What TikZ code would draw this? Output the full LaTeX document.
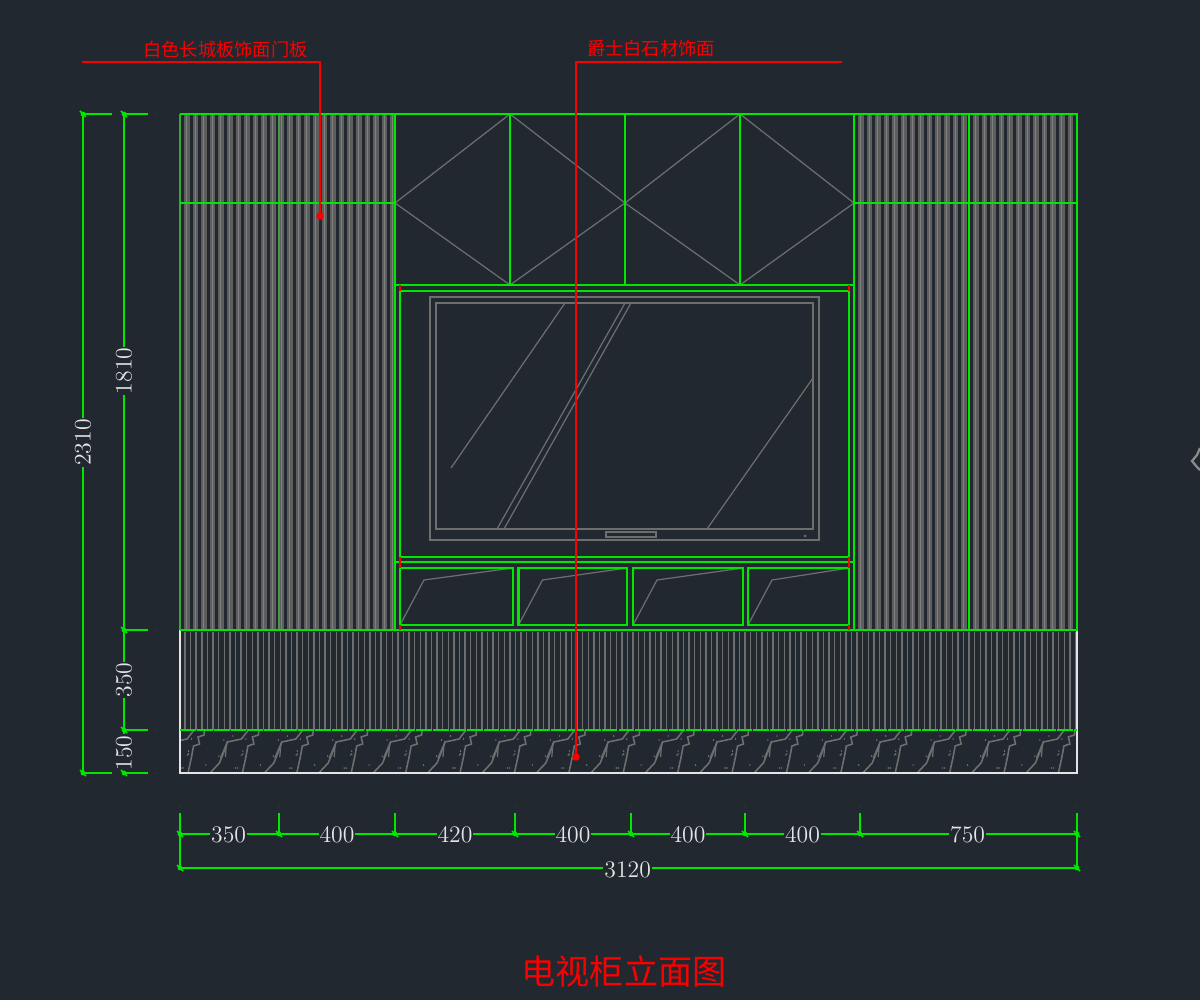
\documentclass[tikz,border=0pt]{standalone}
\usepackage{fontspec}
\newfontfamily\cjk{Noto Sans CJK SC}
\definecolor{cadbg}{HTML}{212830}
\definecolor{cadgreen}{HTML}{00E800}
\definecolor{cadgrey}{HTML}{6E6E6E}
\definecolor{ribgrey}{HTML}{5E5E5E}
\definecolor{ribpale}{HTML}{808080}
\definecolor{cadred}{HTML}{FA0000}
\definecolor{cadwhite}{HTML}{E4E4E4}
\tikzset{
  greenln/.style={draw=cadgreen,line width=1.3pt},
  greyln/.style={draw=cadgrey,line width=0.7pt},
  redln/.style={draw=cadred,line width=1.05pt},
  dimln/.style={draw=cadgreen,line width=1pt},
  dimtxt/.style={fill=cadbg,text=cadwhite,inner sep=0.6pt,font=\fontsize{13.5}{14}\selectfont},
  notetxt/.style={text=cadred,inner sep=0pt,font=\cjk\fontsize{10.4}{12}\selectfont}
}
\newcommand{\dimtick}[2]{
  \fill [cadgreen] (#1,#2) circle (2.4);
  \draw [cadgreen,line width=1pt] (#1-3,#2+3) -- (#1+3,#2-3);
}
\begin{document}
\begin{tikzpicture}[x=0.02cm,y=0.02cm]
  \useasboundingbox (0,0) rectangle (1200,-1000);
  \fill [cadbg] (0,0) rectangle (1200,-1000);
  % ribbed door panels
  \foreach \x in {0,...,24} {
    \fill [ribgrey] (184+8.6*\x,-114) rectangle (189.5+8.6*\x,-630);
    \draw [ribpale,line width=0.6pt] (186.5+8.6*\x,-114) -- (186.5+8.6*\x,-630);
  }
  \foreach \x in {0,...,12} {
    \fill [ribgrey] (858+8.6*\x,-114) rectangle (863.5+8.6*\x,-630);
    \draw [ribpale,line width=0.6pt] (860.5+8.6*\x,-114) -- (860.5+8.6*\x,-630);
  }
  \foreach \x in {0,...,11} {
    \fill [ribgrey] (973+8.6*\x,-114) rectangle (978.5+8.6*\x,-630);
    \draw [ribpale,line width=0.6pt] (975.5+8.6*\x,-114) -- (975.5+8.6*\x,-630);
  }
  \draw [cadgreen!45!cadgrey,line width=0.9pt] (180,-114) -- (180,-630);
  \draw [cadgreen!35!cadgrey,line width=0.8pt] (279,-114) -- (279,-630);
  % plinth lines
  \foreach \x in {0,...,159} {
    \draw [cadgrey,line width=0.8pt] (185+5.6*\x,-632) -- (185+5.6*\x,-730);
  }
  % stone band
  \begin{scope}
    \clip (180,-730) rectangle (1077,-773);
    \foreach \k in {0,...,17} {
      \begin{scope}[shift={(\k*54.4,0)}]
        \draw [greyln,line width=0.9pt] (155.6,-773) -- (165,-763) -- (171,-748) -- (173,-742) -- (187,-739) -- (194,-730);
        \draw [greyln,line width=0.7pt] (166,-758) -- (172,-744) -- (171,-757);
        \draw [greyln,line width=0.9pt] (188,-773) -- (191.5,-757) -- (193.5,-746) -- (199.5,-744) -- (198,-737) -- (204,-735) -- (204.5,-730);
        \foreach \dx/\dy in {169.5/740,178.5/736,164.5/756,151.5/765,181/768,183/768,188.5/754,188.5/751,191.5/739,133/755} {
          \fill [cadgrey!90!white] (\dx,-\dy) circle (0.8);
        }
      \end{scope}
    }
  \end{scope}
  \draw [cadwhite,line width=1.05pt] (180,-630) -- (180,-773) -- (1077,-773) -- (1077,-630);
  % diamonds over the tv
  \draw [greyln] (395,-203) -- (510,-114) -- (625,-203) -- (740,-114) -- (854,-203) -- (740,-285) -- (625,-203) -- (510,-285) -- cycle;
  % tv
  \draw [greyln,line width=0.85pt] (430,-297) rectangle (819,-540);
  \draw [greyln,line width=0.85pt] (436,-303) rectangle (813,-529);
  \draw [greyln] (606,-532) rectangle (656,-537);
  \fill [cadgrey] (805,-536) circle (1.5);
  \draw [greyln] (451,-468) -- (565,-303);
  \draw [greyln] (497,-529) -- (625,-303);
  \draw [greyln] (504,-529) -- (631,-303);
  \draw [greyln] (707,-529) -- (813,-378);
  % drawers
  \foreach \l/\r in {400/512.7,518.5/627,633/743,748/849} {
    \draw [greyln] (\l,-625) -- (\l+24,-580) -- (\r,-568);
  }
  % cabinet lines
  \draw [greenln] (180,-114) -- (1077,-114) -- (1077,-630) -- (180,-630);
  \draw [greenln] (395,-114) -- (395,-630);
  \draw [greenln] (854,-114) -- (854,-630);
  \draw [greenln] (969,-114) -- (969,-630);
  \draw [greenln] (180,-203) -- (395,-203);
  \draw [greenln] (854,-203) -- (1077,-203);
  \draw [greenln] (510,-114) -- (510,-285);
  \draw [greenln] (625,-114) -- (625,-285);
  \draw [greenln] (740,-114) -- (740,-285);
  \draw [greenln] (395,-285) -- (854,-285);
  \draw [greenln] (400,-291) rectangle (849,-557);
  \draw [greenln] (395,-562) -- (854,-562);
  \foreach \l/\r in {400/512.7,518.5/627,633/743,748/849} {
    \draw [greenln] (\l,-568) rectangle (\r,-625);
  }
  \draw [cadgreen,line width=1pt,dash pattern=on 9pt off 0.6pt] (180,-730) -- (1077,-730);
  % small red marks
  \foreach \x in {400,849} {
    \draw [redln] (\x,-285) -- (\x,-291);
    \draw [redln] (\x,-557) -- (\x,-568);
    \draw [redln] (\x,-625) -- (\x,-630);
  }
  % piece cut off at the right edge
  \draw [cadgrey!80!white,line width=1.3pt] (1200,-448) -- (1197,-455) -- (1192,-461) -- (1197,-467) -- (1200,-470);
  % notes
  \coordinate (noteAa) at (82,-62);
  \coordinate (noteAb) at (320,-62);
  \coordinate (noteAc) at (320,-216);
  \coordinate (noteBa) at (842,-62);
  \coordinate (noteBb) at (576,-62);
  \coordinate (noteBc) at (576,-757);
  \draw [redln] (noteAa) -- (noteAb) -- (noteAc);
  \fill [cadred] (noteAc) circle (3.8);
  \draw [redln] (noteBa) -- (noteBb) -- (noteBc);
  \fill [cadred] (noteBc) circle (3.8);
  \node [notetxt] (noteA) at (225.5,-49.5) {白色长城板饰面门板};
  \node [notetxt] (noteB) at (651,-48.5) {爵士白石材饰面};
  % left dimensions
  \coordinate (dimAt) at (83,-114);
  \coordinate (dimAb) at (83,-773);
  \coordinate (dimBt) at (124,-114);
  \coordinate (dimBm) at (124,-630);
  \coordinate (dimBn) at (124,-730);
  \coordinate (dimBb) at (124,-773);
  \draw [dimln] (dimAt) -- node [dimtxt,rotate=90,xshift=0.6pt] (lblAll) {2310} (dimAb);
  \draw [dimln] (dimBt) -- node [dimtxt,rotate=90,xshift=0.6pt] (lblUp) {1810} (dimBm);
  \draw [dimln] (dimBm) -- node [dimtxt,rotate=90] (lblMid) {350} (dimBn);
  \draw [dimln] (dimBn) -- node [dimtxt,rotate=90,xshift=-0.8pt] (lblLow) {150} (dimBb);
  \foreach \y in {114,773} {
    \draw [dimln] (83,-\y) -- (112,-\y);
    \dimtick{83}{-\y}
  }
  \foreach \y in {114,630,730,773} {
    \draw [dimln] (124,-\y) -- (148,-\y);
    \dimtick{124}{-\y}
    \fill [cadgreen!40!cadbg] (155,-\y) circle (0.6);
  }
  % bottom dimensions
  \coordinate (dimCa) at (180,-834);
  \coordinate (dimCb) at (279,-834);
  \coordinate (dimCc) at (395,-834);
  \coordinate (dimCd) at (515,-834);
  \coordinate (dimCe) at (631,-834);
  \coordinate (dimCf) at (745,-834);
  \coordinate (dimCg) at (860,-834);
  \coordinate (dimCh) at (1077,-834);
  \coordinate (dimDa) at (180,-868);
  \coordinate (dimDb) at (1077,-868);
  \draw [dimln] (dimCa) -- node [dimtxt,yshift=-0.6pt,xshift=-0.5pt] (lblCa) {350} (dimCb);
  \draw [dimln] (dimCb) -- node [dimtxt,yshift=-0.6pt] (lblCb) {400} (dimCc);
  \draw [dimln] (dimCc) -- node [dimtxt,yshift=-0.6pt] (lblCc) {420} (dimCd);
  \draw [dimln] (dimCd) -- node [dimtxt,yshift=-0.6pt] (lblCd) {400} (dimCe);
  \draw [dimln] (dimCe) -- node [dimtxt,yshift=-0.6pt] (lblCe) {400} (dimCf);
  \draw [dimln] (dimCf) -- node [dimtxt,yshift=-0.6pt] (lblCf) {400} (dimCg);
  \draw [dimln] (dimCg) -- node [dimtxt,yshift=-0.6pt,xshift=-0.5pt] (lblCg) {750} (dimCh);
  \draw [dimln] (dimDa) -- node [dimtxt,yshift=-0.9pt,xshift=-0.5pt] (lblD) {3120} (dimDb);
  \foreach \x in {180,279,395,515,631,745,860,1077} {
    \draw [dimln] (\x,-813) -- (\x,-834);
    \dimtick{\x}{-834}
    \fill [cadgreen!40!cadbg] (\x,-806) circle (0.6);
  }
  \foreach \x in {180,1077} {
    \draw [dimln] (\x,-834) -- (\x,-868);
    \dimtick{\x}{-868}
  }
  % title
  \node [text=cadred,inner sep=0pt,font=\cjk\fontsize{19.4}{22}\selectfont] (titleA) at (624,-971) {电视柜立面图};
\end{tikzpicture}
\end{document}
